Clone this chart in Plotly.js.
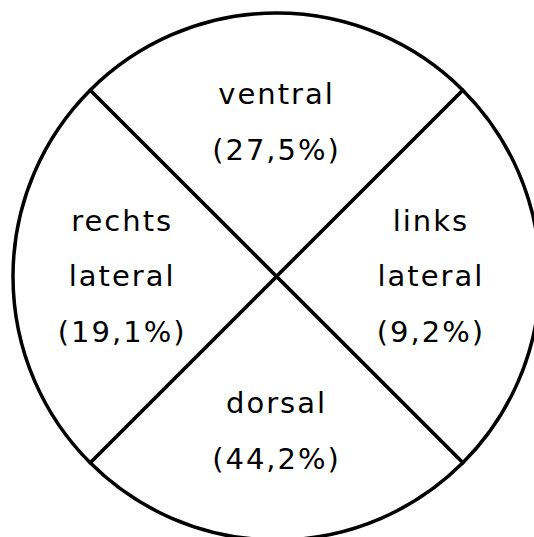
<!DOCTYPE html>
<html>
<head>
<meta charset="utf-8">
<script src="https://cdn.plot.ly/plotly-3.0.1.min.js"></script>
<style>
html, body { margin: 0; padding: 0; overflow: hidden; background: #ffffff; }
#chart { width: 554px; height: 554px; }
</style>
</head>
<body>
<div id="chart"></div>
<script>
// Sectors, clockwise starting from the top
var categories = ['ventral', 'links lateral', 'dorsal', 'rechts lateral'];
var percentages = [27.5, 9.2, 44.2, 19.1];
// The four sectors are drawn as equal quarters in the source figure
var sectorWeights = [1, 1, 1, 1];

function fmtPct(v) {
  return '(' + v.toFixed(1).replace('.', ',') + '%)';
}
var labelText = categories.map(function (c, i) {
  var lines = c.split(' ').concat([fmtPct(percentages[i])]);
  return lines.map(function (l) {
    return '<span style="font-size:29px;letter-spacing:2px">' + l + '</span>';
  }).join('<br>');
});

var trace = {
  type: 'pie',
  labels: categories,
  values: sectorWeights,
  text: labelText,
  textinfo: 'text',
  textposition: 'inside',
  insidetextorientation: 'horizontal',
  insidetextfont: { family: 'DejaVu Sans', size: 43, color: '#000000' },
  sort: false,
  direction: 'clockwise',
  rotation: -45,
  hoverinfo: 'skip',
  marker: {
    colors: ['#ffffff', '#ffffff', '#ffffff', '#ffffff'],
    line: { color: '#000000', width: 3.5 }
  },
  showlegend: false
};

var layout = {
  width: 554,
  height: 554,
  margin: { l: 13, r: 14, t: 13, b: 14, pad: 0 },
  paper_bgcolor: '#ffffff',
  plot_bgcolor: '#ffffff',
  showlegend: false,
  uniformtext: { mode: 'show', minsize: 43 }
};

Plotly.newPlot('chart', [trace], layout, { staticPlot: true, displayModeBar: false });
</script>
</body>
</html>
